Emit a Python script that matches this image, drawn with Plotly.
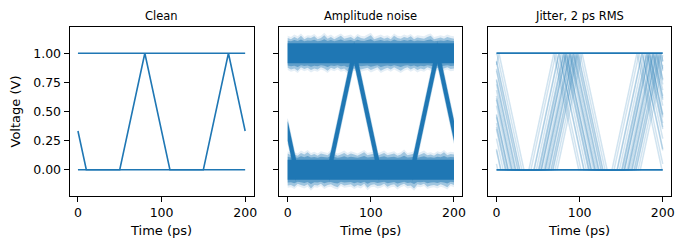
import numpy as np
import plotly.graph_objects as go
from plotly.subplots import make_subplots

# ---------------- data ----------------
panel_titles = ["Clean", "Amplitude noise", "Jitter, 2 ps RMS"]
x_ticks = [0, 100, 200]
y_ticks = [0.0, 0.25, 0.5, 0.75, 1.0]

# clean eye trace (time in ps, voltage in V)
clean_times = [0, 10, 50, 80, 110, 150, 180, 200]
clean_volts = [0.333, 0.0, 0.0, 1.0, 0.0, 0.0, 1.0, 0.333]
level_times = [0, 200]
high_volts = [1.0, 1.0]
low_volts = [0.0, 0.0]

# underlying (unwindowed) waveform, used to shift traces in time for the jitter panel
wave_times = [-90, -50, -20, 10, 50, 80, 110, 150, 180, 210, 250, 280]
wave_volts = [0.0, 0.0, 1.0, 0.0, 0.0, 1.0, 0.0, 0.0, 1.0, 0.0, 0.0, 1.0]

# time offsets (ps) of the individual jittered traces
jitter_offsets = [-11.0, -8.5, -5.0, -4.6, -2.0, 0.5, 1.0, 2.0, 3.5, 4.0,
                  4.3, 6.5, 8.0, 8.4, 9.0, 10.5, 12.0, 13.0, 13.3, 15.5,
                  16.0, 17.8, 18.0, 20.5, 23.0]

# amplitude-noise envelope (V from the level) sampled every 4 ps, 0..200 ps
env_times = list(range(0, 201, 4))
hi_up = [0.13, 0.12, 0.14, 0.125, 0.15, 0.12, 0.135, 0.13, 0.145, 0.12,
         0.13, 0.155, 0.125, 0.14, 0.12, 0.135, 0.15, 0.125, 0.13, 0.14,
         0.12, 0.145, 0.13, 0.125, 0.14, 0.155, 0.12, 0.13, 0.14, 0.125,
         0.135, 0.12, 0.15, 0.13, 0.125, 0.14, 0.13, 0.145, 0.12, 0.135,
         0.13, 0.125, 0.14, 0.15, 0.12, 0.13, 0.135, 0.125, 0.14, 0.13, 0.125]
hi_dn = [0.125, 0.14, 0.13, 0.15, 0.12, 0.135, 0.125, 0.145, 0.13, 0.14,
         0.12, 0.13, 0.15, 0.125, 0.135, 0.12, 0.14, 0.13, 0.155, 0.125,
         0.135, 0.12, 0.14, 0.13, 0.125, 0.145, 0.13, 0.12, 0.15, 0.135,
         0.125, 0.14, 0.12, 0.135, 0.15, 0.13, 0.12, 0.14, 0.125, 0.145,
         0.13, 0.14, 0.12, 0.13, 0.145, 0.125, 0.14, 0.13, 0.12, 0.135, 0.13]
lo_up = [0.14, 0.125, 0.13, 0.12, 0.145, 0.13, 0.15, 0.125, 0.135, 0.12,
         0.14, 0.13, 0.125, 0.15, 0.135, 0.12, 0.13, 0.145, 0.125, 0.14,
         0.13, 0.12, 0.135, 0.15, 0.125, 0.13, 0.14, 0.12, 0.13, 0.145,
         0.125, 0.135, 0.14, 0.12, 0.13, 0.155, 0.125, 0.13, 0.14, 0.12,
         0.135, 0.145, 0.125, 0.13, 0.12, 0.14, 0.13, 0.15, 0.125, 0.135, 0.13]
lo_dn = [0.135, 0.13, 0.145, 0.12, 0.13, 0.14, 0.125, 0.16, 0.13, 0.135,
         0.12, 0.145, 0.13, 0.125, 0.14, 0.15, 0.12, 0.135, 0.13, 0.125,
         0.145, 0.13, 0.14, 0.12, 0.155, 0.13, 0.125, 0.14, 0.135, 0.12,
         0.145, 0.13, 0.125, 0.15, 0.13, 0.12, 0.14, 0.135, 0.16, 0.125,
         0.13, 0.12, 0.145, 0.135, 0.13, 0.14, 0.125, 0.135, 0.15, 0.12, 0.13]
noise_core = 0.085      # half-width (V) of the dense core of each band
ramp_fringe = 0.11      # half-width (V) of the fuzz around the edges

BLUE = "#1f77b4"
FONT = "DejaVu Sans"

fig = make_subplots(rows=1, cols=3, shared_yaxes=True)


def add_poly(xs, ys, color, col):
    fig.add_trace(go.Scatter(x=list(xs), y=list(ys), mode="lines", fill="toself",
                             fillcolor=color, line=dict(width=0),
                             showlegend=False, hoverinfo="skip"), row=1, col=col)


# ---------------- panel 1: clean ----------------
for xs, ys in [(level_times, high_volts), (level_times, low_volts), (clean_times, clean_volts)]:
    fig.add_trace(go.Scatter(x=xs, y=ys, mode="lines", line=dict(color=BLUE, width=1.6),
                             showlegend=False, hoverinfo="skip"), row=1, col=1)

# ---------------- panel 2: amplitude noise ----------------
et = np.array(env_times, dtype=float)
for level, up, dn in [(high_volts[0], hi_up, hi_dn), (low_volts[0], lo_up, lo_dn)]:
    up = np.array(up)
    dn = np.array(dn)
    add_poly(np.r_[et, et[::-1]], np.r_[level + up + 0.02, (level - dn - 0.02)[::-1]],
             "rgba(31,119,180,0.12)", 2)
    add_poly(np.r_[et, et[::-1]], np.r_[level + up, (level - dn)[::-1]],
             "rgba(31,119,180,0.35)", 2)
    add_poly(np.r_[et, et[::-1]], np.r_[level + 0.5 * (up + noise_core),
                                        (level - 0.5 * (dn + noise_core))[::-1]],
             "rgba(31,119,180,0.5)", 2)

ramps = []
for i in range(len(clean_times) - 1):
    if clean_volts[i] != clean_volts[i + 1]:
        ramps.append((clean_times[i], clean_volts[i], clean_times[i + 1], clean_volts[i + 1]))

for (x0, y0, x1, y1) in ramps:
    d = ramp_fringe
    add_poly([x0, x1, x1, x0, x0], [y0 + d, y1 + d, y1 - d, y0 - d, y0 + d],
             "rgba(31,119,180,0.35)", 2)

for (x0, y0, x1, y1) in ramps + [(level_times[0], high_volts[0], level_times[1], high_volts[1]),
                                 (level_times[0], low_volts[0], level_times[1], low_volts[1])]:
    d = noise_core
    add_poly([x0, x1, x1, x0, x0], [y0 + d, y1 + d, y1 - d, y0 - d, y0 + d], BLUE, 2)

# ---------------- panel 3: jitter ----------------
for off in jitter_offsets:
    knots = [t + off for t in wave_times if 0 < t + off < 200]
    ts = np.array([0.0] + knots + [200.0])
    vs = np.interp(ts - off, wave_times, wave_volts)
    fig.add_trace(go.Scatter(x=ts, y=vs, mode="lines",
                             line=dict(color="rgba(31,119,180,0.2)", width=1.5),
                             showlegend=False, hoverinfo="skip"), row=1, col=3)
for ys in [high_volts, low_volts]:
    fig.add_trace(go.Scatter(x=level_times, y=ys, mode="lines",
                             line=dict(color=BLUE, width=1.8),
                             showlegend=False, hoverinfo="skip"), row=1, col=3)

# ---------------- layout ----------------
W, H = 688, 249
x_doms = [(70, 255), (281, 465), (491, 675)]
y_top, y_bot = 27, 196

axis_common = dict(showline=True, mirror=True, linecolor="black", linewidth=1,
                   ticks="outside", ticklen=5, tickwidth=1, tickcolor="black",
                   showgrid=False, zeroline=False,
                   tickfont=dict(family=FONT, size=12.5, color="black"))

for i, (a, b) in enumerate(x_doms, start=1):
    fig.update_xaxes(row=1, col=i, domain=[a / W, b / W], range=[-10, 210],
                     tickvals=x_ticks, title=dict(text="Time (ps)", standoff=6,
                                                  font=dict(family=FONT, size=13, color="black")),
                     **axis_common)
    fig.update_yaxes(row=1, col=i, domain=[1 - y_bot / H, 1 - y_top / H],
                     range=[-0.225, 1.225], tickvals=y_ticks, tickformat=".2f",
                     showticklabels=(i == 1), **axis_common)

fig.update_yaxes(row=1, col=1, title=dict(text="Voltage (V)", standoff=9,
                                          font=dict(family=FONT, size=13, color="black")))

for (a, b), t in zip(x_doms, panel_titles):
    fig.add_annotation(x=(a + b) / 2 / W, y=1 - 16 / H, xref="paper", yref="paper",
                       text=t, showarrow=False, xanchor="center", yanchor="middle",
                       font=dict(family=FONT, size=11.5, color="black"))

fig.update_layout(width=W, height=H, margin=dict(l=0, r=0, t=0, b=0),
                  paper_bgcolor="white", plot_bgcolor="white",
                  font=dict(family=FONT, color="black"))

fig.write_html("out.html")
